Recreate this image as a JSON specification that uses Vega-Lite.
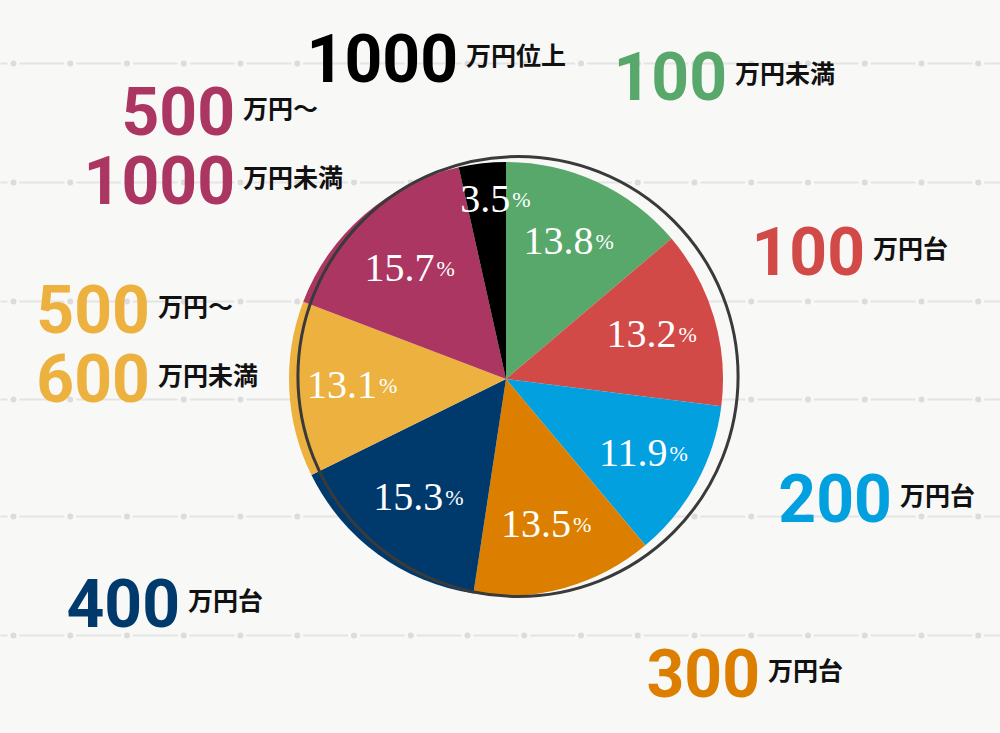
{
  "$schema": "https://vega.github.io/schema/vega-lite/v6.json",
  "autosize": {"type": "fit", "contains": "padding"},
  "width": 1000,
  "height": 733,
  "padding": {"left": 0, "top": 25, "right": 0, "bottom": 0},
  "background": "#f8f8f7",
  "config": {"view": {"stroke": null}},
  "data": {
    "values": [
      {"order": 1, "category": "100万円未満", "value": 13.8, "num": "100", "unit": "万円未満"},
      {"order": 2, "category": "100万円台", "value": 13.2, "num": "100", "unit": "万円台"},
      {"order": 3, "category": "200万円台", "value": 11.9, "num": "200", "unit": "万円台"},
      {"order": 4, "category": "300万円台", "value": 13.5, "num": "300", "unit": "万円台"},
      {"order": 5, "category": "400万円台", "value": 15.3, "num": "400", "unit": "万円台"},
      {"order": 6, "category": "500万円～600万円未満", "value": 13.1, "num": "500\n600", "unit": "万円～\n万円未満"},
      {"order": 7, "category": "500万円～1000万円未満", "value": 15.7, "num": "500\n1000", "unit": "万円～\n万円未満"},
      {"order": 8, "category": "1000万円位上", "value": 3.5, "num": "1000", "unit": "万円位上"}
    ]
  },
  "layer": [
    {
      "mark": {"type": "rule", "opacity": 0},
      "encoding": {
        "y": {
          "datum": 0, "type": "quantitative",
          "scale": {"domain": [0, 708], "reverse": true, "nice": false, "zero": false},
          "axis": {
            "orient": "left", "values": [38, 157, 276, 374, 491, 610],
            "grid": true, "gridColor": "#e4e4e4", "gridWidth": 2,
            "gridDash": [44.75, 12], "gridDashOffset": 37.75,
            "domain": false, "ticks": false, "labels": false, "title": null,
            "minExtent": 0, "maxExtent": 0
          }
        }
      }
    },
    {
      "mark": {"type": "rule", "opacity": 0},
      "encoding": {
        "y": {
          "datum": 0, "type": "quantitative",
          "axis": {
            "orient": "left", "values": [38, 157, 276, 374, 491, 610],
            "grid": true, "gridColor": "#dcdcdc", "gridWidth": 6, "gridCap": "round",
            "gridDash": [0, 56.75], "gridDashOffset": 43.75,
            "domain": false, "ticks": false, "labels": false, "title": null,
            "minExtent": 0, "maxExtent": 0
          }
        }
      }
    },
    {
      "mark": {"type": "arc", "radius": 217, "xOffset": 6},
      "encoding": {
        "theta": {"field": "value", "type": "quantitative", "stack": true},
        "order": {"field": "order", "type": "quantitative"},
        "color": {
          "field": "category", "type": "nominal", "legend": null,
          "scale": {
            "domain": ["100万円未満", "100万円台", "200万円台", "300万円台", "400万円台", "500万円～600万円未満", "500万円～1000万円未満", "1000万円位上"],
            "range": ["#57a86a", "#d24a48", "#03a0e0", "#dc7f00", "#003a6c", "#ecb13f", "#ab3661", "#000000"]
          }
        }
      }
    },
    {
      "transform": [{"aggregate": [{"op": "count", "as": "n"}]}],
      "mark": {
        "type": "arc", "theta": 0, "theta2": 6.2832, "radius": 220,
        "filled": false, "stroke": "#3a3a3a", "strokeWidth": 3,
        "xOffset": 18, "yOffset": -2.5
      },
      "encoding": {}
    },
    {
      "mark": {"type": "text", "font": "Liberation Serif", "fontSize": 40, "color": "white", "align": "right", "baseline": "middle", "dx": 24, "xOffset": 6},
      "encoding": {
        "theta": {"field": "value", "type": "quantitative", "stack": true},
        "order": {"field": "order", "type": "quantitative"},
        "radius": {
          "field": "value", "type": "quantitative",
          "scale": {"type": "linear", "domain": [3.5, 15.7], "range": [180, 146], "zero": false, "nice": false}
        },
        "text": {"field": "value", "type": "quantitative", "format": ".1f"}
      }
    },
    {
      "mark": {"type": "text", "font": "Liberation Serif", "fontSize": 22, "color": "white", "align": "left", "baseline": "middle", "dx": 26, "xOffset": 6},
      "encoding": {
        "theta": {"field": "value", "type": "quantitative", "stack": true},
        "order": {"field": "order", "type": "quantitative"},
        "radius": {
          "field": "value", "type": "quantitative",
          "scale": {"type": "linear", "domain": [3.5, 15.7], "range": [180, 146], "zero": false, "nice": false}
        },
        "text": {"value": "%"}
      }
    },
    {
      "mark": {
        "type": "text", "font": "Roboto", "fontWeight": "bold", "fontSize": 66, "xOffset": 6,
        "align": "right", "baseline": "alphabetic", "lineBreak": "\n", "lineHeight": 69
      },
      "encoding": {
        "theta": {
          "field": "order", "type": "quantitative", "stack": null,
          "scale": {"domain": [1, 2, 3, 4, 5, 6, 7, 8], "range": [0.67, 1.2888, 1.9256, 2.4675, 4.062, 4.8408, 5.4456, 6.123], "zero": false, "nice": false}
        },
        "radius": {
          "field": "order", "type": "quantitative",
          "scale": {"domain": [1, 2, 3, 4, 5, 6, 7, 8], "range": [355.9, 373.8, 411.6, 407.0, 409.6, 359.0, 364.7, 300.9], "zero": false, "nice": false}
        },
        "color": {"field": "category", "type": "nominal", "legend": null},
        "text": {"field": "num"}
      }
    },
    {
      "mark": {
        "type": "text", "font": "Noto Sans CJK JP", "fontWeight": "bold", "fontSize": 25, "xOffset": 6,
        "color": "#111111", "align": "left", "baseline": "alphabetic", "dx": 8, "dy": -17,
        "lineBreak": "\n", "lineHeight": 69
      },
      "encoding": {
        "theta": {
          "field": "order", "type": "quantitative", "stack": null,
          "scale": {"domain": [1, 2, 3, 4, 5, 6, 7, 8], "range": [0.67, 1.2888, 1.9256, 2.4675, 4.062, 4.8408, 5.4456, 6.123], "zero": false, "nice": false}
        },
        "radius": {
          "field": "order", "type": "quantitative",
          "scale": {"domain": [1, 2, 3, 4, 5, 6, 7, 8], "range": [355.9, 373.8, 411.6, 407.0, 409.6, 359.0, 364.7, 300.9], "zero": false, "nice": false}
        },
        "text": {"field": "unit"}
      }
    }
  ],
  "resolve": {
    "scale": {"theta": "independent", "radius": "independent"},
    "axis": {"y": "independent"}
  }
}
